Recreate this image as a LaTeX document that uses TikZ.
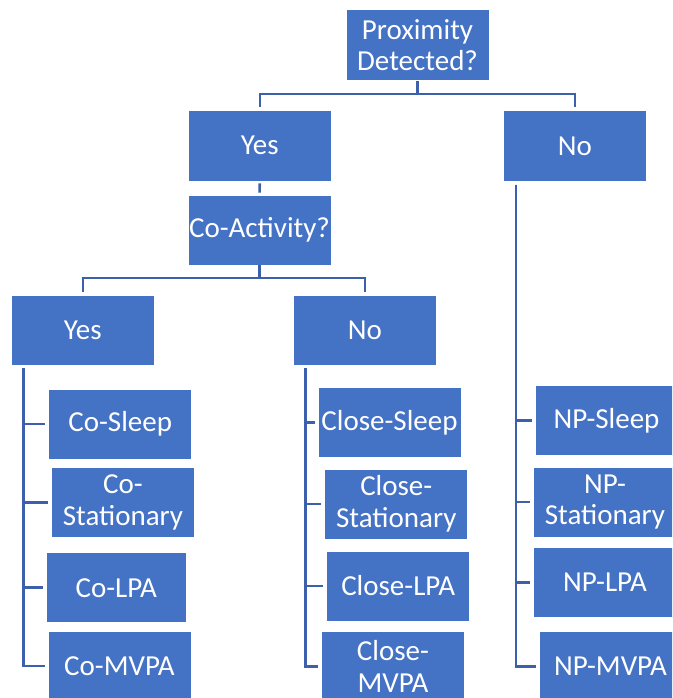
\documentclass[tikz,border=0pt]{standalone}
\usepackage{fontspec}
\setmainfont{Carlito}
\definecolor{boxblue}{HTML}{4472C4}
\definecolor{linkblue}{RGB}{60,96,172}
\begin{document}
\begin{tikzpicture}[x=1pt,y=-1pt,
  box/.style={rectangle, fill=boxblue, draw=white, line width=0.8pt,
    minimum width=143pt, minimum height=70pt, inner sep=0pt,
    text=white, align=center,
    font=\fontsize{29}{31.5}\selectfont},
  link/.style={draw=linkblue, line width=2.6pt}]
\useasboundingbox (0,0) rectangle (672,698);
\clip (0,0) rectangle (672,698);
% boxes
\node[box, minimum height=71pt] (prox) at (417.5,45) {Proximity\\Detected?};
\node[box, minimum height=71pt] (yes1) at (259.8,145.5) {Yes};
\node[box, minimum height=71pt] (no1) at (574.8,145.8) {No};
\node[box] (coact) at (259.5,230) {Co-Activity?};
\node[box] (yes2) at (82.8,330) {Yes};
\node[box] (no2) at (364.8,330) {No};
\node[box] (cosleep) at (120.2,424) {Co-Sleep};
\node[box] (costat) at (123,502.3) {Co-\\Stationary};
\node[box, minimum width=140pt] (colpa) at (116.3,587.7) {Co-LPA};
\node[box] (comvpa) at (119.5,666) {Co-MVPA};
\node[box] (clsleep) at (389.5,422.3) {Close-Sleep};
\node[box] (clstat) at (396.3,504) {Close-\\Stationary};
\node[box] (cllpa) at (398.2,586) {Close-LPA};
\node[box] (clmvpa) at (393,666.5) {Close-\\MVPA};
\node[box] (npsleep) at (606.5,420.5) {NP-Sleep};
\node[box] (npstat) at (605,502) {NP-\\Stationary};
\node[box] (nplpa) at (605,582.5) {NP-LPA};
\node[box] (npmvpa) at (610.5,666.5) {NP-MVPA};
% connectors
\coordinate (b1) at (417.5,94);
\draw[link] (prox.south) -- (b1);
\draw[link, shorten >=3pt] (b1) -| (yes1.north);
\draw[link, shorten >=3pt] (b1) -| (no1.north);
\draw[link, shorten <=2pt, shorten >=2pt] (yes1.south) -- (coact.north);
\coordinate (b2) at (259.5,278);
\draw[link] (coact.south) -- (b2);
\draw[link, shorten >=3pt] (b2) -| (yes2.north);
\draw[link, shorten >=3pt] (b2) -| (no2.north);
% rails
\foreach \c in {cosleep,costat,colpa,comvpa}
  \draw[link, shorten >=3pt] ([xshift=12.8pt,yshift=-3pt]yes2.south west) |- (\c.west);
\foreach \c in {clsleep,clstat,cllpa,clmvpa}
  \draw[link, shorten >=3pt] ([xshift=12.5pt,yshift=-3pt]no2.south west) |- (\c.west);
\foreach \c in {npsleep,npstat,nplpa,npmvpa}
  \draw[link, shorten >=3pt] ([xshift=13pt,yshift=-3pt]no1.south west) |- (\c.west);
\end{tikzpicture}
\end{document}
